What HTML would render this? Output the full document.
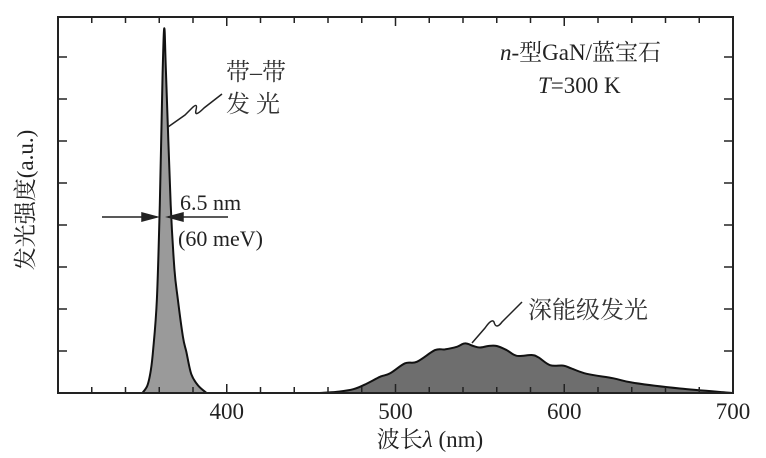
<!DOCTYPE html>
<html><head><meta charset="utf-8"><style>
body{margin:0;background:#fff;}
svg{display:block;font-family:"Liberation Serif","Noto Serif CJK SC",serif;}
</style></head><body>
<svg id="chart" width="766" height="458" viewBox="0 0 766 458">
<g id="marks"></g>
<rect x="58" y="17" width="675" height="376" fill="none" stroke="#222" stroke-width="2"/>
<g id="ticks" stroke="#222" stroke-width="1.5"></g>
<g id="ticklabels" font-size="23" fill="#222" text-anchor="middle"></g>
<text x="430" y="447" font-size="23" text-anchor="middle" fill="#222">波长<tspan font-style="italic">λ</tspan> (nm)</text>
<text transform="translate(33,200) rotate(-90)" font-size="23" text-anchor="middle" fill="#222">发光强度(a.u.)</text>
<text x="226" y="80" font-size="24" fill="#333">带–带</text>
<text x="226" y="112" font-size="24" fill="#333">发 光</text>
<path d="M168,127 L185,115 L192,108 Q198,102 196,110 Q194,118 204,108 L222,94" fill="none" stroke="#222" stroke-width="1.5"/>
<text x="180" y="210" font-size="22" fill="#222">6.5 nm</text>
<text x="178" y="246" font-size="22" fill="#222">(60 meV)</text>
<g stroke="#222" stroke-width="1.5">
<line x1="102" y1="217" x2="157" y2="217"/><line x1="168" y1="217" x2="228" y2="217"/>
<path d="M157,217 L142,213 L142,221 Z" fill="#222"/><path d="M168,217 L183,213 L183,221 Z" fill="#222"/>
</g>
<text x="500" y="60" font-size="23" fill="#222"><tspan font-style="italic">n</tspan>-型GaN/蓝宝石</text>
<text x="538" y="93" font-size="23" fill="#222"><tspan font-style="italic">T</tspan>=300 K</text>
<text x="528" y="318" font-size="24" fill="#333">深能级发光</text>
<path d="M472,343 L485,328 Q492,318 494,322 Q496,330 502,322 L522,302" fill="none" stroke="#222" stroke-width="1.5"/>
</svg>
<script>
const peakNm=[350,353,355,356.5,358.6,360.3,362,363,364,366.8,369,371,374,376,379,383,388];
const peakVal=[0,2,6,12,25,50,85,97,85,50,33,25,15,11,5,2,0];
const deepNm=[455,465,475,483,490.8,496.7,505.6,512.6,523.4,529.3,536.3,541.2,546.1,550.1,555,560,565.9,571.8,580.6,584.6,591.6,599.5,604.4,613.3,629.1,640.9,668.6,700];
const deepVal=[0,0.3,1,2.5,4.3,5.2,7.9,8.3,11.4,11.6,12.3,13.2,12.5,12.1,12.5,12.5,11.4,9.9,10.1,9.5,7.4,7.3,6.5,5.1,3.9,2.7,1.2,0];
const xTickVals=[400,500,600,700];
const xTickLabels=["400","500","600","700"];
const X=v=>58+(v-300)*675/400;
const Y=v=>393-v*376/100;
const NS="http://www.w3.org/2000/svg";
function area(xs,ys,fill,name,smooth){
  const P=xs.map((x,i)=>[X(x),Y(ys[i])]);
  let d="M"+P[0][0].toFixed(1)+","+Y(0)+" L"+P[0][0].toFixed(1)+","+P[0][1].toFixed(1);
  for(let i=1;i<P.length;i++){
    if(smooth){
      const p0=P[Math.max(0,i-2)],p1=P[i-1],p2=P[i],p3=P[Math.min(P.length-1,i+1)];
      const c1=[p1[0]+(p2[0]-p0[0])/6,p1[1]+(p2[1]-p0[1])/6];
      const c2=[p2[0]-(p3[0]-p1[0])/6,p2[1]-(p3[1]-p1[1])/6];
      d+=" C"+c1[0].toFixed(1)+","+c1[1].toFixed(1)+" "+c2[0].toFixed(1)+","+c2[1].toFixed(1)+" "+p2[0].toFixed(1)+","+p2[1].toFixed(1);
    } else d+=" L"+P[i][0].toFixed(1)+","+P[i][1].toFixed(1);
  }
  d+=" L"+P[P.length-1][0].toFixed(1)+","+Y(0)+" Z";
  const p=document.createElementNS(NS,"path");
  p.setAttribute("d",d);p.setAttribute("fill",fill);p.setAttribute("stroke","#111");p.setAttribute("stroke-width","2");p.setAttribute("stroke-linejoin","round");
  
  
  document.getElementById("marks").appendChild(p);
}
area(peakNm,peakVal,"#9a9a9a","band-edge-peak",true);
area(deepNm,deepVal,"#6e6e6e","deep-level-band",true);
const tg=document.getElementById("ticks");
for(let v=320;v<700;v+=20){
  const l=document.createElementNS(NS,"line");const x=X(v);
  l.setAttribute("x1",x);l.setAttribute("x2",x);l.setAttribute("y1",393);l.setAttribute("y2",v%100===0?384:387);
  
  
  tg.appendChild(l);
  const t=l.cloneNode();t.setAttribute("y1",17);t.setAttribute("y2",v%100===0?26:23);
  
  
  tg.appendChild(t);
}
for(let i=1;i<9;i++){
  const y=393-i*42;
  [[58,67],[733,724]].forEach(([a,b])=>{
    const l=document.createElementNS(NS,"line");
    l.setAttribute("x1",a);l.setAttribute("x2",b);l.setAttribute("y1",y);l.setAttribute("y2",y);
    
    
    tg.appendChild(l);
  });
}
const lg=document.getElementById("ticklabels");
xTickVals.forEach((v,i)=>{
  const t=document.createElementNS(NS,"text");
  t.setAttribute("x",X(v));t.setAttribute("y",419);t.textContent=xTickLabels[i];
  
  
  lg.appendChild(t);
});
</script>
</body></html>
